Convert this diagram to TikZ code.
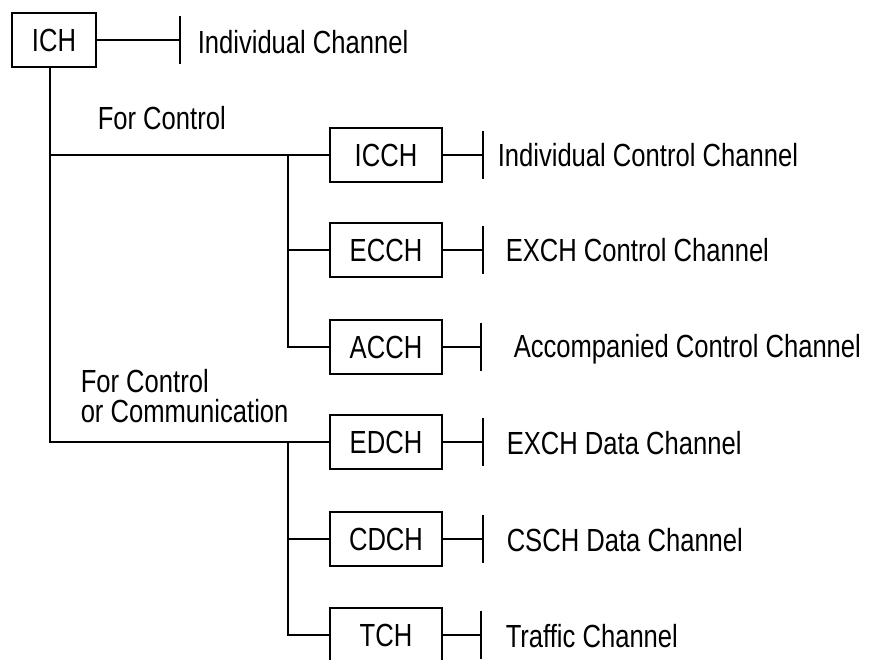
\documentclass[tikz,border=0pt]{standalone}
\usepackage{fontspec}
\setmainfont[FakeStretch=0.8]{Liberation Sans}
\begin{document}
\begin{tikzpicture}[x=1pt,y=-1pt,line width=1.5pt,
  every node/.style={font=\fontsize{32}{30}\selectfont},
  chbox/.style={draw, line width=1.7pt, minimum width=112pt, minimum height=54pt, inner sep=0pt},
  chlabel/.style={anchor=base west, inner sep=0pt}]
\useasboundingbox (0,0) rectangle (871,660);
\node[chbox, minimum width=84pt] (ich) at (54,40) {ICH};
\node[chbox] (icch) at (386,155) {ICCH};
\node[chbox] (ecch) at (386,250) {ECCH};
\node[chbox] (acch) at (386,347) {ACCH};
\node[chbox] (edch) at (386,442) {EDCH};
\node[chbox] (cdch) at (386,539) {CDCH};
\node[chbox] (tch) at (386,635) {TCH};
% end ticks
\coordinate (t0) at (180,40);
\coordinate (t1) at (483,155);
\coordinate (t2) at (483,250);
\coordinate (t3) at (481,347);
\coordinate (t4) at (483,442);
\coordinate (t5) at (483,539);
\coordinate (t6) at (481,635);
\node[chlabel] (l0) at (197,54) {Individual Channel};
\node[chlabel] (l1) at (497,167) {Individual Control Channel};
\node[chlabel] (l2) at (505,262) {EXCH Control Channel};
\node[chlabel] (l3) at (513,358) {Accompanied Control Channel};
\node[chlabel] (l4) at (506,454) {EXCH Data Channel};
\node[chlabel] (l5) at (506,551) {CSCH Data Channel};
\node[chlabel] (l6) at (505,647) {Traffic Channel};
\draw (ich) -- (t0);
\draw (icch) -- (t1);
\draw (ecch) -- (t2);
\draw (acch) -- (t3);
\draw (edch) -- (t4);
\draw (cdch) -- (t5);
\draw (tch) -- (t6);
\foreach \t in {t0,t1,t2,t3,t4,t5,t6}
  \draw ([yshift=24pt]\t) -- ([yshift=-24pt]\t);
% trunk and branches
\coordinate (j1) at (288,155);
\coordinate (j2) at (288,442);
\draw ([xshift=-4pt]ich.south) |- (icch.west);
\draw ([xshift=-4pt]ich.south) |- (edch.west);
\draw (j1) |- (ecch.west);
\draw (j1) |- (acch.west);
\draw (j2) |- (cdch.west);
\draw (j2) |- (tch.west);
\node[chlabel] (fc) at (97,130) {For Control};
\node[anchor=south west, inner sep=0pt, align=left] (fcc) at (80,424) {For Control\\or Communication};
\end{tikzpicture}
\end{document}
